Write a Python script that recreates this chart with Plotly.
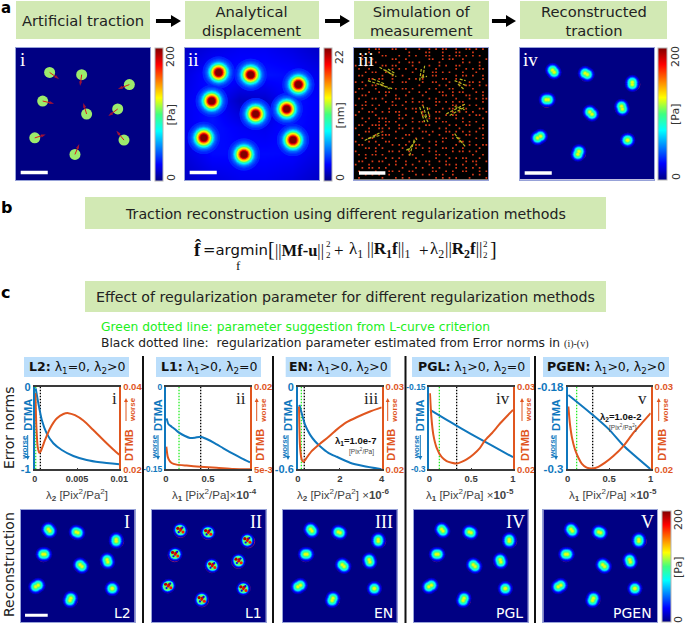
import plotly.graph_objects as go

W, H = 685, 623

# ---------- curve data ----------
l2_a_x = [.00012, .00043, .00083, .00142, .0022, .0032, .00457, .00614, .00772, .01]
l2_a_y = [-.02, -.20, -.40, -.565, -.685, -.766, -.839, -.887, -.915, -.94]
l2_b_x = [.00008, .0002, .00035, .00055, .0007, .00122, .00181, .0026, .00339, .00398, .00476, .00575, .00693, .00811, .00929, .01]
l2_b_y = [.0384, .0303, .0255, .024, .0243, .0271, .0299, .0323, .0334, .0336, .0331, .0318, .0295, .0271, .0248, .0235]

l1_a_x = [.008, .028, .067, .107, .155, .226, .286, .345, .413, .484, .583, .683, .802, .901, 1]
l1_a_y = [-.0575, -.0677, -.0726, -.0774, -.0835, -.0895, -.0931, -.0925, -.0907, -.095, -.1028, -.1119, -.1222, -.13, -.1373]
l1_b_x = [.004, .02, .04, .067, .127, .246, .405, .603, .802, 1]
l1_b_y = [.0091, .0073, .0066, .00615, .00585, .00567, .00548, .0053, .00506, .005]

en_a_x = [.064, .175, .335, .574, .813, 1.052, 1.45, 1.849, 2.486, 3.124, 4]
en_a_y = [-.132, -.192, -.276, -.348, -.396, -.432, -.48, -.509, -.552, -.576, -.6]
en_b_x = [.048, .096, .175, .255, .414, .653, 1.052, 1.45, 1.849, 2.327, 2.805, 3.442, 4]
en_b_y = [.0276, .0228, .0212, .0209, .0214, .0222, .0231, .0239, .0248, .0257, .0263, .027, .0275]

pgl_a_x = [.01, .25, .5, .75, 1]
pgl_a_y = [-.192, -.214, -.236, -.257, -.278]
pgl_b_x = [.008, .024, .048, .088, .147, .207, .267, .327, .386, .446, .526, .606, .665, .75, .85, 1]
pgl_b_y = [.0292, .0264, .0242, .0226, .0215, .021, .0208, .0207, .0209, .0212, .0218, .0226, .0235, .0244, .0256, .0272]

pgen_a_x = [.008, .3, .5, .67, 1]
pgen_a_y = [-.192, -.2208, -.2424, -.2654, -.3]
pgen_b_x = [.008, .028, .052, .088, .129, .169, .229, .301, .369, .45, .55, .671, .791, .912, 1]
pgen_b_y = [.0276, .0254, .0238, .0224, .0214, .0207, .0202, .0201, .0203, .0208, .0216, .0228, .0244, .0258, .0268]

# ---------- image panel data (panel fractions) ----------
bead_x = [.251, .490, .846, .199, .759, .527, .140, .806, .440]
bead_y = [.812, .795, .720, .596, .536, .498, .318, .301, .193]
force_u = [.070, -.012, -.085, .085, -.070, -.025, .082, -.057, .032]
force_v = [-.050, -.086, -.033, -.020, -.053, .083, .025, .070, .078]

recon_x = [.249, .494, .838, .203, .761, .529, .142, .803, .436]
recon_y = [.820, .800, .728, .605, .545, .503, .321, .298, .202]
recon_ex = [.006, .008, 0, .008, .003, .008, .011, .002, .004]
recon_ey = [-.008, -.004, .008, 0, -.010, -.008, .007, 0, .011]

disp_levels = [3.5, 4, 4.5, 5, 6, 7, 8, 9, 10, 11, 12, 13, 14, 15, 16, 17, 18, 19, 20, 21, 22]
disp_diams = [32, 28, 26, 24, 22, 20.5, 19, 18, 17, 16, 15, 14, 13, 12, 11, 10, 9, 8.5, 8, 7, 6]
disp_bg_axis = [0, .2, .4, .6, .8, 1]
disp_bg = [[1.4, 2.0, 2.4, 2.4, 2.1, 1.5],
           [2.0, 2.9, 2.9, 2.9, 2.8, 2.1],
           [2.4, 3.1, 2.6, 2.4, 3.1, 2.4],
           [2.4, 3.1, 1.4, 1.6, 3.1, 2.6],
           [2.1, 3.1, 3.1, 3.1, 2.9, 2.3],
           [1.5, 2.1, 2.5, 2.5, 2.1, 1.5]]

recon_levels = [10, 14, 20, 28, 38, 50, 62, 74, 86, 98, 110, 122]
recon_diams = [15, 14, 13, 12, 11, 10, 9, 8, 6.8, 5.4, 4, 2.5]
l1_levels = [12, 20, 40, 75, 105]
l1_diams = [14, 12.5, 11, 9.5, 8]
l1_spot_dx = [-.022, .006, .024, -.014, .018, .0]
l1_spot_dy = [.016, .012, -.016, -.018, .022, -.002]
l1_spot_val = [190, 185, 170, 25, 25, 180]
l1_spot_diam = [3.2, 3, 3, 2.2, 2.2, 2.6]

meas_rows = [
 "....#.##...##..#...#..#.#.##..#..##.#.#.",
 "....#..#........#....##...#...##...#....",
 "..#.....##...#..#.#..##...#.#.##.#.#.#..",
 "..#..#.....##..#......##..#.##..#......#",
 "....#.#......#..##.#.....#......#.#..#..",
 "#..#....##.##....#....#..#.#..##.....#..",
 ".#..#......#.#.#..#.....#.....#..#.#.##.",
 "...#.##..#.......#.....##.#.#...#...#...",
 ".##.....#..#..#.....#..##.....#.##.#..#.",
 "....##.##..#....#.#.#.....##..#.......#.",
 "#.#........#..##....#..##...#..#..##.#..",
 "...#.##.#..........#.....#.#...#.##..#.#",
 ".##...#.....#.##.#....#.#...##.....#....",
 "#...#..#.##.....#..#.#...##..#.##...#.#.",
 "..##.....#..#..#....#.....##.#...##...#.",
 ".#...##.#...##...#....#.#.....#...#.#.##",
 "...#.....#.#...#.#.##...##.#.#.##.....#.",
 "#.##.#.#...##.#.....#...#....##.#.#.#...",
 "..#...#...#....#.##...#...#.##...#...##.",
 ".#..##..#.#.##....#.#...##...#.#.#.#...#",
 "#.....#......#.#....#.#....#.##...#.##..",
 "..#.#..###...##..#....#.##....#.#.....#.",
 "...#...#.##.#....#.##...#.##....#.#.#...",
 ".##..###.#...#.#.....##.....#.#..##...#.",
 "#...#..##.#..##..#.#.....#.#...#.....##.",
 "...##...#...#....#..##.#...##.#.#.#.#...",
 ".#....#.###....##.....#..#...#...##...#.",
 "..#.##..#...#.#...#.#.....##.#.#....#.#.",
 "#...#.#..##.....#.....#.#.#....##.#.....",
 ".##....#...#.#.#..##....#.....#...#.#.##",
 "...##.#.#.....#...#.#.#...##.#..#....#..",
 "#.....#...##.#..#.....#.#....#.##.#.#...",
 ".#.#.##.#.....#.##..#...##.#.......#..#.",
 "...#.....#.#.#....#.....#...#.#.##...#..",
 ".##..#.##...#..#...#.##..#.#.....#.##..#",
 "#...#.....#.#..#.#....#....##.#.#...#...",
 "..#.##.#.#....#...#.#..#.#....#..#.#.#..",
 ".#....#...##.#..##.....##..#.#..##...#.#",
 "...#.#.#..#...#...#.#.#...#..#.....#.#..",
 ".#......#...#.#.#.......#.#.#.#...#....#",
]
vec_x0 = [.19, .23, .254, .49, .515, .502, .751, .776, .789, .104, .142, .192, .689, .714, .751, .49, .515, .545, .527, .08, .104, .751, .764, .403, .415, .39]
vec_y0 = [.85, .83, .837, .749, .774, .774, .749, .724, .761, .749, .761, .724, .497, .485, .553, .548, .56, .548, .485, .296, .309, .347, .322, .218, .181, .221]
vec_x1 = [.316, .29, .304, .502, .527, .545, .838, .826, .833, .291, .229, .266, .833, .826, .826, .527, .545, .565, .552, .204, .192, .833, .814, .47, .452, .428]
vec_y1 = [.78, .79, .804, .837, .862, .781, .711, .678, .749, .686, .724, .686, .573, .548, .528, .435, .46, .472, .435, .359, .334, .246, .271, .309, .309, .246]

JET = [[0, '#000083'], [.125, '#0000ff'], [.375, '#00ffff'], [.5, '#40ff80'], [.625, '#ffff00'], [.875, '#ff0000'], [1, '#800000']]
BLUE, ORANGE, DARK = '#0f77bd', '#e0561f', '#3a3a3a'
SANS, SERIF, ARIAL = 'DejaVu Sans', 'Liberation Serif', 'Liberation Sans'
GREENBOX, BLUEBOX = '#d2e9b4', '#bbdefb'

fig = go.Figure()
annos, shapes = [], []
layout = {}
ax_n = [0]


def fx(x):
    return x / W


def fy(y):
    return 1 - y / H


def t(x, y, text, size=11, color='black', family=SANS, anchor='center', angle=0):
    annos.append(dict(x=fx(x), y=fy(y), xref='paper', yref='paper', text=text, showarrow=False,
                      font=dict(size=size, color=color, family=family), xanchor=anchor, yanchor='middle',
                      textangle=angle, borderpad=0, borderwidth=0))


def box(x0, y0, x1, y1, color):
    shapes.append(dict(type='rect', xref='paper', yref='paper', x0=fx(x0), x1=fx(x1), y0=fy(y0), y1=fy(y1),
                       fillcolor=color, line_width=0, layer='below'))


def poly(pts, color):
    path = 'M' + ' L'.join(f'{fx(a):.4f},{fy(b):.4f}' for a, b in pts) + ' Z'
    shapes.append(dict(type='path', xref='paper', yref='paper', path=path, fillcolor=color, line_width=0))


def arrow(x0, x1, y):
    mid = x1 - 10
    poly([(x0, y - 2), (mid, y - 2), (mid, y - 6), (x1, y), (mid, y + 6), (mid, y + 2), (x0, y + 2)], 'black')


def vert_arrow(x, y_tail, y_tip, color):
    s = 1 if y_tip > y_tail else -1
    shapes.append(dict(type='line', xref='paper', yref='paper', x0=fx(x), x1=fx(x), y0=fy(y_tail), y1=fy(y_tip - s * 3),
                       line=dict(color=color, width=1)))
    poly([(x - 2, y_tip - s * 4), (x, y_tip), (x + 2, y_tip - s * 4)], color)


def image_axes(x0, x1, y0, y1):
    ax_n[0] += 1
    n = ax_n[0]
    xa, ya = f'xaxis{n}', f'yaxis{n}'
    common = dict(range=[0, 1], showgrid=False, zeroline=False, showticklabels=False, ticks='',
                  showline=True, mirror=True, linecolor='#97a2d8', linewidth=1)
    layout[xa] = dict(domain=[fx(x0), fx(x1)], anchor=f'y{n}', **common)
    layout[ya] = dict(domain=[fy(y1), fy(y0)], anchor=f'x{n}', **common)
    return f'x{n}', f'y{n}'


def bg(xa, ya, axis_vals, z, coloraxis):
    fig.add_trace(go.Heatmap(x=axis_vals, y=axis_vals, z=z, coloraxis=coloraxis, xaxis=xa, yaxis=ya,
                             zsmooth='best', hoverinfo='skip'))


def blobs(xa, ya, xs, ys, ex, ey, levels, diams, coloraxis):
    px_ = [a + s * e for s in (-1, 1) for a, e in zip(xs, ex)]
    py_ = [a + s * e for s in (-1, 1) for a, e in zip(ys, ey)]
    for lv, d in zip(levels, diams):
        fig.add_trace(go.Scatter(x=px_, y=py_, mode='markers', xaxis=xa, yaxis=ya, hoverinfo='skip',
                                 marker=dict(size=d, color=[lv] * len(px_), coloraxis=coloraxis, line_width=0)))


def rings(xa, ya):
    fig.add_trace(go.Scatter(x=bead_x, y=bead_y, mode='markers', xaxis=xa, yaxis=ya, hoverinfo='skip',
                             marker=dict(size=13, color='rgba(0,0,0,0)', line=dict(color='#b82068', width=.7))))


def scalebar(xa, ya, x0, x1, y, width):
    fig.add_trace(go.Scatter(x=[x0, x1], y=[y, y], mode='lines', xaxis=xa, yaxis=ya, hoverinfo='skip',
                             line=dict(color='white', width=width)))


def cbar(x, y0, y1, thick):
    return dict(x=fx(x), xanchor='left', y=fy(y0), yanchor='top', lenmode='pixels', len=y1 - y0,
                thicknessmode='pixels', thickness=thick, xpad=0, ypad=0, showticklabels=False, ticks='',
                outlinecolor='#b5b5b5', outlinewidth=1)


def cbar_labels(x, y0, y1, top, unit):
    t(x, y0 + 9, top, 11, '#333', angle=-90)
    t(x, y1 - 3, '0', 11, '#333', angle=-90)
    t(x, (y0 + y1) / 2 + 1, unit, 11, '#333', angle=-90)


# ---------- section a ----------
for x0, x1, label in [(16, 150, 'Artificial traction'), (185, 319, 'Analytical<br>displacement'),
                      (354, 489, 'Simulation of<br>measurement'), (520, 667, 'Reconstructed<br>traction')]:
    box(x0, 1, x1, 39, GREENBOX)
    t((x0 + x1) / 2, 20.5, label, 14.7, '#222')
arrow(156, 181, 21)
arrow(325, 350, 21)
arrow(492, 516, 21)

t(1, 8, '<b>a</b>', 15, 'black', anchor='left')
t(1, 208, '<b>b</b>', 16, 'black', anchor='left')
t(1, 293, '<b>c</b>', 16, 'black', anchor='left')

# panel i
xa, ya = image_axes(16, 150, 47.5, 180)
bg(xa, ya, [0, 1], [[0, 0], [0, 0]], 'coloraxis')
fig.add_trace(go.Scatter(x=bead_x, y=bead_y, mode='markers', xaxis=xa, yaxis=ya, hoverinfo='skip',
                         marker=dict(size=11, color='#9ceb6c', line_width=0)))
ax_, ay_ = [], []
for bx, by, u, v in zip(bead_x, bead_y, force_u, force_v):
    ax_ += [bx, bx + u, None]
    ay_ += [by, by + v, None]
fig.add_trace(go.Scatter(x=ax_, y=ay_, mode='lines+markers', xaxis=xa, yaxis=ya, hoverinfo='skip',
                         line=dict(color='#e01818', width=1),
                         marker=dict(symbol='arrow', angleref='previous', color='#e01818', line_width=0,
                                     size=[0, 5, 0] * len(bead_x))))
scalebar(xa, ya, .035, .237, .056, 3.5)
t(22, 60, 'i', 19, 'white', SERIF)
cbar_labels(171, 48, 181, '200', '[Pa]')

# panel ii
xa, ya = image_axes(185, 319, 47.5, 180)
bg(xa, ya, disp_bg_axis, disp_bg, 'coloraxis2')
blobs(xa, ya, bead_x, bead_y, [0] * 9, [0] * 9, disp_levels, disp_diams, 'coloraxis2')
scalebar(xa, ya, .035, .237, .056, 3.5)
t(193, 60, 'ii', 19, 'white', SERIF)
cbar_labels(340, 48, 181, '22', '[nm]')

# panel iii
xa, ya = image_axes(354, 488, 47.5, 179.5)
fig.add_trace(go.Heatmap(x=[0, 1], y=[0, 1], z=[[0, 0], [0, 0]], xaxis=xa, yaxis=ya, showscale=False,
                         colorscale=[[0, 'black'], [1, 'black']], hoverinfo='skip'))
dx_, dy_ = [], []
for r, row in enumerate(meas_rows):
    for c, ch in enumerate(row):
        if ch == '#':
            dx_.append((c + .5) / 40)
            dy_.append(1 - (r + .5) / 40)
fig.add_trace(go.Scatter(x=dx_, y=dy_, mode='markers', xaxis=xa, yaxis=ya, hoverinfo='skip',
                         marker=dict(size=1.7, symbol='square', color='#d83a18', line_width=0)))
sx, sy = [], []
for a, b, c, d in zip(vec_x0, vec_y0, vec_x1, vec_y1):
    sx += [a, c, None]
    sy += [b, d, None]
fig.add_trace(go.Scatter(x=sx, y=sy, mode='lines', xaxis=xa, yaxis=ya, hoverinfo='skip',
                         line=dict(color='#b4b420', width=1.2, dash='3px,1.5px')))
scalebar(xa, ya, .037, .234, .05, 3.5)
t(366, 60, 'iii', 19, 'white', SERIF)

# panel iv
xa, ya = image_axes(520, 654, 47.5, 179.5)
bg(xa, ya, [0, 1], [[0, 0], [0, 0]], 'coloraxis3')
rings(xa, ya)
blobs(xa, ya, recon_x, recon_y, recon_ex, recon_ey, recon_levels, recon_diams, 'coloraxis3')
scalebar(xa, ya, .035, .237, .05, 3.5)
t(530, 60, 'iv', 19, 'white', SERIF)
cbar_labels(676, 48, 180, '200', '[Pa]')

# ---------- section b ----------
box(85, 197, 606, 229, GREENBOX)
t(345.5, 214, 'Traction reconstruction using different regularization methods', 14.2, '#222')
t(197, 249, '<b>f&#770;</b>', 19, '#111', SERIF)
t(203, 250, '=argmin', 14.9, '#111', SANS, 'left')
t(239, 265, 'f', 13, '#111', SERIF)
t(268, 249, '[', 20, '#111', SERIF, 'left')
t(275, 250, '||<b>Mf-u</b>||', 16.5, '#111', SERIF, 'left')
t(326, 244, '2', 9, '#111', SERIF, 'left')
t(326, 255, '2', 9, '#111', SERIF, 'left')
t(334, 250, '+', 17, '#111', SERIF, 'left')
t(349, 250, 'λ<sub>1</sub>', 17, '#111', SERIF, 'left')
t(367, 250, '||<b>R<sub>1</sub>f</b>||<sub>1</sub>', 17, '#111', SERIF, 'left')
t(419, 250, '+', 17, '#111', SERIF, 'left')
t(429.5, 250, 'λ<sub>2</sub>', 17, '#111', SERIF, 'left')
t(445, 250, '||<b>R<sub>2</sub>f</b>||', 17, '#111', SERIF, 'left')
t(483, 244, '2', 9, '#111', SERIF, 'left')
t(483, 255, '2', 9, '#111', SERIF, 'left')
t(490, 249, ']', 20, '#111', SERIF, 'left')

# ---------- section c ----------
box(85, 281, 606, 312, GREENBOX)
t(345.5, 297, 'Effect of regularization parameter for different regularization methods', 14.2, '#222')
t(101, 326.5, 'Green dotted line: parameter suggestion from L-curve criterion', 12.3, '#22ee22', SANS, 'left')
t(101, 342.5, 'Black dotted line:  regularization parameter estimated from Error norms in '
              '<span style="font-family:Liberation Serif;font-size:10px">(i)-(v)</span>', 12.3, '#222', SANS, 'left')
t(9, 428, 'Error norms', 14, '#222', SANS, angle=-90)
t(9, 565, 'Reconstruction', 14, '#222', SANS, angle=-90)

for x in [143, 273, 405.5, 535]:
    shapes.append(dict(type='line', xref='paper', yref='paper', x0=fx(x), x1=fx(x), y0=fy(356), y1=fy(623),
                       line=dict(color='#111', width=2)))

plots = [
    dict(x0=34.7, x1=119.3, xr=[0, .01], xt=[0, .005, .01], xl=['0', '0.005', '0.01'],
         ar=[-1, 0], al=['-1', '0'], br=[.02, .04], bl=['0.02', '0.04'],
         a=(l2_a_x, l2_a_y), b=(l2_b_x, l2_b_y), green=.00012, black=.00067,
         box=(24, 129), title='<b>L2:</b> λ<sub>1</sub>=0, λ<sub>2</sub>&gt;0', rn='i', rnx=114,
         xlabel='λ<sub><b>2</b></sub> [Pix<sup>2</sup>/Pa<sup>2</sup>]', xlx=77, ao=-7, bo=9.7, als=11, xs=9),
    dict(x0=166, x1=250, xr=[0, 1], xt=[0, .5, 1], xl=['0', '0.5', '1'],
         ar=[-.15, 0], al=['-0.15', '0'], br=[.005, .02], bl=['5e-3', '0.02'],
         a=(l1_a_x, l1_a_y), b=(l1_b_x, l1_b_y), green=.155, black=.413,
         box=(156, 261), title='<b>L1:</b> λ<sub>1</sub>&gt;0, λ<sub>2</sub>=0', rn='ii', rnx=240.7,
         xlabel='λ<sub><b>1</b></sub> [Pix<sup>2</sup>/Pa]×<b>10<sup>-4</sup></b>', xlx=214, ao=-8, bo=9.7, als=8.5, xs=9.5),
    dict(x0=298, x1=381.7, xr=[0, 4], xt=[0, 2, 4], xl=['0', '2', '4'],
         ar=[-.6, 0], al=['-0.6', '0'], br=[.02, .03], bl=['0.02', '0.03'],
         a=(en_a_x, en_a_y), b=(en_b_x, en_b_y), green=.16, black=.30,
         box=(285.7, 390.7), title='<b>EN:</b> λ<sub>1</sub>&gt;0, λ<sub>2</sub>&gt;0', rn='iii', rnx=371,
         xlabel='λ<sub><b>2</b></sub> [Pix<sup>2</sup>/Pa<sup>2</sup>] ×<b>10<sup>-6</sup></b>', xlx=343, ao=-10, bo=9, als=11, xs=9.5),
    dict(x0=429.3, x1=513, xr=[0, 1], xt=[0, .5, 1], xl=['0', '0.5', '1'],
         ar=[-.3, -.15], al=['-0.3', '-0.15'], br=[.02, .03], bl=['0.02', '0.03'],
         a=(pgl_a_x, pgl_a_y), b=(pgl_b_x, pgl_b_y), green=.12, black=.327,
         box=(412, 530), title='<b>PGL:</b> λ<sub>1</sub>&gt;0, λ<sub>2</sub>=0', rn='iv', rnx=502.7,
         xlabel='λ<sub><b>1</b></sub> [Pix<sup>2</sup>/Pa] ×<b>10<sup>-5</sup></b>', xlx=470, ao=-9, bo=12, als=8.5, xs=9.5),
    dict(x0=567.7, x1=650.7, xr=[0, 1], xt=[0, .5, 1], xl=['0', '0.5', '1'],
         ar=[-.3, -.18], al=['-0.3', '-0.18'], br=[.02, .03], bl=['0.02', '0.03'],
         a=(pgen_a_x, pgen_a_y), b=(pgen_b_x, pgen_b_y), green=.108, black=.301,
         box=(543, 669), title='<b>PGEN:</b> λ<sub>1</sub>&gt;0, λ<sub>2</sub>&gt;0', rn='v', rnx=642,
         xlabel='λ<sub><b>1</b></sub> [Pix<sup>2</sup>/Pa] ×<b>10<sup>-5</sup></b>', xlx=613, ao=-11.7, bo=11, als=11.5, xs=9.5),
]
Y0, Y1 = 386.7, 469.3
for p in plots:
    ax_n[0] += 1
    n = ax_n[0]
    layout[f'xaxis{n}'] = dict(domain=[fx(p['x0']), fx(p['x1'])], anchor=f'y{n}', range=p['xr'], tickvals=p['xt'],
                               ticktext=p['xl'], ticks='inside', ticklen=2, tickcolor=DARK, showgrid=False,
                               zeroline=False, showline=True, mirror=True, linecolor=DARK, linewidth=1.5,
                               tickfont=dict(family=ARIAL, size=p['xs'], color=DARK, weight='bold'))
    layout[f'yaxis{n}'] = dict(domain=[fy(Y1), fy(Y0)], anchor=f'x{n}', range=p['ar'], tickvals=p['ar'],
                               ticktext=p['al'], ticks='', showgrid=False, zeroline=False, showline=True,
                               linecolor=BLUE, linewidth=2,
                               tickfont=dict(family=ARIAL, size=p['als'], color=BLUE, weight='bold'))
    ax_n[0] += 1
    m = ax_n[0]
    layout[f'yaxis{m}'] = dict(domain=[fy(Y1), fy(Y0)], anchor=f'x{n}', overlaying=f'y{n}', side='right',
                               range=p['br'], tickvals=p['br'], ticktext=p['bl'], ticks='', showgrid=False,
                               zeroline=False, showline=True, linecolor=ORANGE, linewidth=2,
                               tickfont=dict(family=ARIAL, size=9.5, color=ORANGE, weight='bold'))
    for v, col in [(p['green'], '#22ee22'), (p['black'], 'black')]:
        fig.add_trace(go.Scatter(x=[v, v], y=p['ar'], mode='lines', xaxis=f'x{n}', yaxis=f'y{n}',
                                 line=dict(color=col, width=1.3, dash='1.5px,1.5px'), hoverinfo='skip'))
    fig.add_trace(go.Scatter(x=p['a'][0], y=p['a'][1], mode='lines', xaxis=f'x{n}', yaxis=f'y{n}', name='DTMA',
                             line=dict(color=BLUE, width=2, shape='spline', smoothing=.6)))
    fig.add_trace(go.Scatter(x=p['b'][0], y=p['b'][1], mode='lines', xaxis=f'x{n}', yaxis=f'y{m}', name='DTMB',
                             line=dict(color=ORANGE, width=2, shape='spline', smoothing=.6)))
    box(p['box'][0], 357, p['box'][1], 377, BLUEBOX)
    t(sum(p['box']) / 2, 367.5, p['title'], 12.5, '#111')
    t(p['rnx'], 398, p['rn'], 17, '#222', SERIF)
    t(p['xlx'], 495, p['xlabel'], 11.5, '#444', ARIAL)
    xl, xr = p['x0'] + p['ao'], p['x1'] + p['bo']
    t(xl, 415, '<b>DTMA</b>', 11, BLUE, ARIAL, angle=-90)
    t(xl - 4, 447, '<b>worse</b>', 8, BLUE, ARIAL, angle=-90)
    t(xr, 445, '<b>DTMB</b>', 11, ORANGE, ARIAL, angle=-90)
    t(xr + 3, 410, '<b>worse</b>', 8, ORANGE, ARIAL, angle=-90)
    vert_arrow(xl, 435, 460, BLUE)
    vert_arrow(xr - 3, 421, 398, ORANGE)

t(356, 441, '<b>λ<sub>1</sub>=1.0e-7</b>', 9.5, '#111', ARIAL)
t(361.7, 451.7, '[Pix<sup>2</sup>/Pa]', 6.5, '#444', ARIAL)
t(620.7, 416.7, '<b>λ<sub>2</sub>=1.0e-2</b>', 9.5, '#111', ARIAL)
t(622.7, 427.7, '[Pix<sup>2</sup>/Pa<sup>2</sup>]', 6.5, '#444', ARIAL)

# ---------- reconstruction row ----------
rec_panels = [(20.7, 134.7, 'I', 126.7, 'L2', 122.7), (152, 265.7, 'II', 256, 'L1', 253),
              (283, 396.7, 'III', 384, 'EN', 383), (414, 527.7, 'IV', 515, 'PGL', 509),
              (543.3, 657.3, 'V', 647, 'PGEN', 632)]
for x0, x1, rn, rnx, nm, nmx in rec_panels:
    xa, ya = image_axes(x0, x1, 510, 622)
    bg(xa, ya, [0, 1], [[0, 0], [0, 0]], 'coloraxis4')
    rings(xa, ya)
    if nm == 'L1':
        blobs(xa, ya, recon_x, recon_y, [e / 2 for e in recon_ex], [e / 2 for e in recon_ey], l1_levels, l1_diams, 'coloraxis4')
        for ddx, ddy, val, d in zip(l1_spot_dx, l1_spot_dy, l1_spot_val, l1_spot_diam):
            fig.add_trace(go.Scatter(x=[a + ddx for a in recon_x], y=[a + ddy for a in recon_y], mode='markers',
                                     xaxis=xa, yaxis=ya, hoverinfo='skip',
                                     marker=dict(size=d, color=[val] * 9, coloraxis='coloraxis4', line_width=0)))
    else:
        blobs(xa, ya, recon_x, recon_y, recon_ex, recon_ey, recon_levels, recon_diams, 'coloraxis4')
    if nm == 'L2':
        scalebar(xa, ya, .038, .237, .06, 3)
    t(rnx, 521.5, rn, 18, 'white', SERIF)
    t(nmx, 612.5, nm, 14, 'white', SANS)
cbar_labels(678, 511, 623, '200', '[Pa]')

layout.update(
    width=W, height=H, showlegend=False, paper_bgcolor='white', plot_bgcolor='rgba(0,0,0,0)',
    margin=dict(l=0, r=0, t=0, b=0, pad=0, autoexpand=False),
    annotations=annos, shapes=shapes,
    coloraxis=dict(colorscale=JET, cmin=0, cmax=200, colorbar=cbar(155, 48, 181, 8)),
    coloraxis2=dict(colorscale=JET, cmin=0, cmax=22, colorbar=cbar(324, 48, 181, 8)),
    coloraxis3=dict(colorscale=JET, cmin=0, cmax=200, colorbar=cbar(658, 48, 180, 9)),
    coloraxis4=dict(colorscale=JET, cmin=0, cmax=200, colorbar=cbar(661.7, 511, 622, 8.5)),
)
fig.update_layout(**layout)
fig.write_html("out.html", config=dict(displayModeBar=False), post_script="document.body.style.margin='0';")
